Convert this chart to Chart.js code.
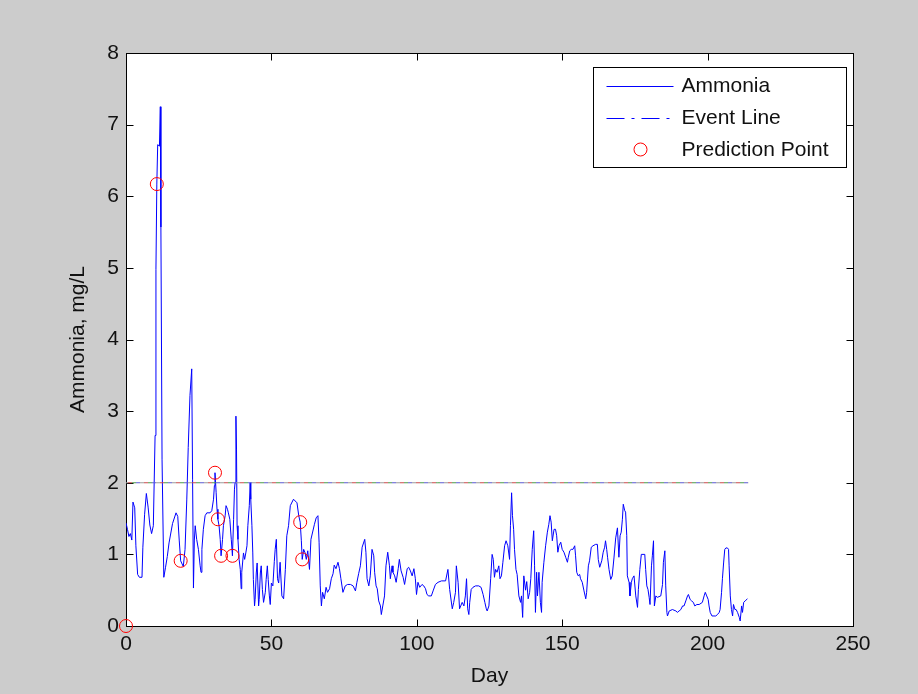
<!DOCTYPE html>
<html>
<head>
<meta charset="utf-8">
<title>Ammonia</title>
<script src="https://cdn.jsdelivr.net/npm/chart.js@4.4.0/dist/chart.umd.min.js"></script>
<style>
  html, body { margin: 0; padding: 0; background: #cccccc; }
  canvas { display: block; }
</style>
</head>
<body>
<canvas id="chart" width="918" height="694"></canvas>
<script>
/* ===== data ===== */
var days = [
  0, 0.5, 1.0, 1.5, 2.0, 2.4, 3.0, 3.4, 4.0, 4.6, 5.5, 5.8, 6.4, 7.0, 7.6, 8.2, 8.8, 9.4,
  10.0, 10.3, 10.6, 10.9, 11.5, 11.8, 12.0, 12.4, 13.0, 13.6, 14.2, 14.8, 16.0, 17.2, 17.8, 18.3,
  18.8, 19.7, 20.3, 20.9, 21.4, 22.0, 22.6, 22.9, 23.2, 23.5,
  23.8, 24.3, 24.9, 25.5, 25.8, 26.1, 26.6, 27.2, 27.8, 28.9, 29.5, 30.1, 30.4, 30.6, 31.0, 31.3,
  31.6, 32.0, 32.4, 32.7, 33.2, 33.5, 34.1, 34.4, 34.9, 35.2, 35.7, 36.2, 36.6, 37.0, 37.3, 37.5,
  37.8, 38.0, 38.2, 38.5, 38.9, 39.3, 39.6, 39.8, 40.4, 40.8, 41.2, 41.6, 41.9, 42.4, 42.7, 42.9,
  43.3, 43.6, 43.8, 44.2, 44.4, 44.8, 45.1, 45.6, 45.8, 46.2, 46.5, 46.9, 47.3, 47.9, 48.2, 48.6,
  48.9, 49.3, 49.6, 50.0, 50.5, 51.0,
  51.3, 51.7, 52.1, 52.5, 53.0, 53.6, 54.2, 54.8, 55.3, 55.9, 56.5, 57.6, 58.8, 59.4, 59.9, 60.3,
  60.6, 61.1, 61.6, 62.0, 62.5, 63.1, 63.6, 64.8, 65.4, 66.0, 66.4, 66.8, 67.2, 67.6, 68.2, 68.8,
  69.3, 70.0, 70.6, 71.2, 71.6, 72.2, 72.9, 73.4, 73.9, 74.6, 75.4, 76.2, 77.2, 78.1, 78.9, 79.4, 80.0,
  80.6, 81.2, 82.1, 82.5, 82.9, 83.5, 84.0, 84.6, 85.2, 85.5, 86.0, 86.4, 86.9, 87.5, 87.8, 88.3,
  88.9, 89.4, 90.0, 90.6, 90.9, 91.5, 91.8, 92.4, 92.9, 93.6, 94.0, 94.6, 95.3, 95.8, 96.7, 97.2,
  97.8, 98.4, 99.0, 99.5, 99.9, 100.4, 101.0, 101.8, 102.4, 103.0, 103.5, 104.1, 105.0, 105.6,
  106.4, 107.3, 108.5,
  109.9, 110.7, 111.3, 112.2, 112.7, 113.3, 113.6, 114.2, 114.7, 115.6, 116.2, 116.7, 117.1, 117.5,
  117.9, 118.2, 118.7, 119.3, 120.2, 121.3, 122.1, 122.8, 123.4, 123.9, 124.2, 124.8, 125.4, 125.9,
  126.3, 126.7, 127.1, 127.6, 128.2, 128.6, 129.1, 129.6, 130.2, 130.7, 131.3, 131.9, 132.2, 132.6,
  132.9, 133.3, 133.6, 134.1, 134.5, 135.1, 135.7, 136.0, 136.4, 136.8,
  137.4, 137.8, 138.3, 138.8, 139.2, 139.7, 140.2, 140.5, 140.8, 141.2, 141.5, 142.0, 142.5, 142.9,
  143.1, 143.7, 144.3, 144.9, 145.4, 145.8, 146.2, 146.6, 147.2, 147.7, 148.1, 148.5, 148.9, 149.5,
  150.0, 150.6, 151.2, 151.8, 152.1, 152.6, 153.1, 153.7, 154.3, 154.6, 155.0, 155.5, 156.0, 156.3,
  156.9, 157.5, 158.1, 158.4, 159.0, 159.4, 160.0, 160.6, 161.5, 162.1, 162.4, 162.9, 163.6, 164.1,
  164.6, 164.9, 165.3, 165.6, 166.1, 166.7,
  167.2, 167.8, 168.4, 169.0, 169.5, 169.9, 170.3, 170.7, 171.0, 171.5, 171.8, 172.2, 172.4, 173.0,
  173.3, 173.8, 174.1, 174.7, 175.3, 175.9, 176.2, 176.7, 177.2, 178.4, 178.7, 179.1, 179.5, 179.9,
  180.2, 180.7, 181.0, 181.4, 181.7, 182.2, 182.7, 183.9, 184.5, 184.8, 185.3, 185.6, 186.0, 186.2,
  186.8, 187.9, 189.1, 189.6, 190.2, 190.8, 191.4, 191.9, 192.5, 193.1, 193.4, 194.0, 194.5, 195.1,
  195.6, 196.3,
  197.1, 198.2, 198.8, 199.2, 199.7, 200.2, 200.5, 200.9, 201.5, 202.8, 203.4, 204.0, 204.3, 204.8,
  205.1, 205.5, 205.9, 206.3, 206.8, 207.2, 207.4, 207.8, 208.2, 208.6, 208.9, 209.4, 209.8, 210.3,
  210.9, 211.2, 211.7, 212.0, 212.4, 212.9, 213.7
];
var ammonia = [
  1.44, 1.35, 1.25, 1.29, 1.20, 1.73, 1.65, 1.12, 0.72, 0.68, 0.68, 1.10, 1.56, 1.85, 1.66, 1.41, 1.29, 1.40,
  2.66, 4.98, 6.17, 6.72, 6.70, 7.25, 5.57, 2.32, 0.68, 0.82, 0.97, 1.16, 1.43, 1.58, 1.53, 1.20,
  0.91, 0.83, 1.07, 1.76, 2.49, 3.22, 3.59, 2.05, 0.53, 1.20,
  1.40, 1.21, 1.07, 0.84, 0.75, 1.07, 1.35, 1.54, 1.58, 1.58, 1.61, 1.77, 1.96, 2.14, 1.86, 1.63,
  1.49, 1.40, 1.21, 0.98, 1.21, 1.40, 1.54, 1.68, 1.63, 1.58, 1.49, 1.21, 0.98, 1.49, 1.91, 2.00,
  2.93, 2.47, 1.40, 1.21, 0.93, 0.79, 0.52, 0.75, 1.02, 0.93, 1.02, 1.12, 1.40, 1.68, 2.00, 1.77,
  1.40, 1.02, 0.65, 0.28, 0.37, 0.74, 0.88, 0.28, 0.37, 0.74, 0.84, 0.51, 0.33, 0.47, 0.65, 0.84,
  0.65, 0.42, 0.30, 0.60, 0.56, 0.90,
  1.07, 1.21, 0.66, 0.60, 0.89, 0.42, 0.38, 0.79, 1.26, 1.40, 1.68, 1.77, 1.72, 1.54, 1.45, 1.19,
  0.93, 1.07, 1.02, 0.93, 1.05, 0.79, 1.21, 1.42, 1.51, 1.54, 1.17, 0.56, 0.28, 0.47, 0.38, 0.54,
  0.47, 0.52, 0.66, 0.73, 0.85, 0.80, 0.89, 0.80, 0.66, 0.47, 0.56, 0.58, 0.58, 0.56, 0.49, 0.61, 0.73,
  0.84, 1.10, 1.21, 1.03, 0.66, 0.56, 0.70, 1.07, 0.98, 0.75, 0.56, 0.52, 0.35, 0.28, 0.16, 0.28,
  0.42, 0.84, 1.03, 0.84, 0.66, 0.84, 0.75, 0.70, 0.61, 0.80, 0.93, 0.77, 0.68, 0.58, 0.80, 0.82,
  0.77, 0.70, 0.80, 0.66, 0.44, 0.61, 0.54, 0.58, 0.56, 0.52, 0.44, 0.42, 0.42, 0.49,
  0.58, 0.61, 0.63,
  0.63, 0.79, 0.51, 0.24, 0.33, 0.47, 0.84, 0.61, 0.24, 0.33, 0.28, 0.42, 0.66, 0.24,
  0.16, 0.33, 0.51, 0.54, 0.56, 0.56, 0.54, 0.44, 0.33, 0.24, 0.21, 0.28, 0.66, 1.00,
  0.93, 0.68, 0.79, 0.75, 0.84, 0.66, 0.70, 0.89, 1.12, 1.19, 1.12, 0.93, 1.40, 1.86,
  1.54, 1.35, 1.07, 0.79, 0.72, 0.42, 0.33, 0.42, 0.12, 0.70,
  0.50, 0.62, 0.38, 0.47, 0.66, 1.07, 1.33, 0.84, 0.19, 0.75, 0.42, 0.75, 0.33, 0.19,
  0.61, 0.89, 1.12, 1.31, 1.42, 1.54, 1.45, 1.19, 1.35, 1.35, 1.26, 1.03, 1.12, 1.17,
  1.07, 1.03, 0.96, 0.89, 0.96, 1.05, 1.07, 1.07, 1.12, 0.98, 0.75, 0.70, 0.72, 0.66,
  0.61, 0.49, 0.38, 0.47, 0.84, 0.91, 1.10, 1.12, 1.14, 1.14, 0.93, 0.82, 0.91, 1.03,
  1.10, 1.19, 1.07, 0.96, 0.79, 0.65,
  0.70, 0.95, 1.23, 1.37, 0.96, 1.26, 1.31, 1.49, 1.70, 1.61, 1.59, 1.26, 0.70, 0.61,
  0.42, 0.61, 0.66, 0.70, 0.42, 0.26, 0.51, 0.79, 1.00, 1.00, 0.79, 0.56, 0.51, 0.40,
  0.30, 0.84, 0.98, 1.19, 0.28, 0.42, 0.40, 0.42, 0.58, 0.89, 1.05, 0.56, 0.19, 0.14,
  0.21, 0.23, 0.21, 0.19, 0.21, 0.23, 0.28, 0.28, 0.35, 0.42, 0.44, 0.37, 0.35, 0.33,
  0.28, 0.30,
  0.30, 0.33, 0.42, 0.47, 0.42, 0.37, 0.28, 0.19, 0.14, 0.14, 0.16, 0.19, 0.23, 0.47,
  0.66, 0.88, 1.07, 1.09, 1.09, 1.07, 0.84, 0.42, 0.23, 0.14, 0.30, 0.23, 0.23, 0.19,
  0.12, 0.07, 0.28, 0.19, 0.33, 0.35, 0.38
];
var eventDays = [0, 214];
var eventLevel = [2, 2];
var predDays = [0, 10.6, 18.8, 30.6, 31.6, 32.7, 36.6, 59.9, 60.6];
var predValues = [0, 6.17, 0.91, 2.14, 1.49, 0.98, 0.98, 1.45, 0.93];
var xTicks = [0, 50, 100, 150, 200, 250];
var yTicks = [0, 1, 2, 3, 4, 5, 6, 7, 8];
var legendLabels = ['Ammonia', 'Event Line', 'Prediction Point'];

/* ===== helpers ===== */
var FONT = '"Liberation Sans", Arial, sans-serif';
var TXT = '#111111';

function pairs(xs, ys) {
    return xs.map(function(x, i) { return { x: x, y: ys[i] }; });
}

// the event line in the picture is a thin multicoloured line
function eventPattern() {
    var c = document.createElement('canvas');
    c.width = 16; c.height = 1;
    var g = c.getContext('2d');
    ['#c84a4a', '#4a9a4a', '#5a5ad0', '#9a9a9a'].forEach(function(col, i) {
        g.fillStyle = col;
        g.fillRect(i * 4, 0, 4, 1);
    });
    return g.createPattern(c, 'repeat');
}

// white axes background, black box and inward ticks like the original
var axesBox = {
    id: 'axesBox',
    beforeDatasetsDraw: function(chart) {
        var ctx = chart.ctx, a = chart.chartArea;
        var xs = chart.scales.x, ys = chart.scales.y;
        var L = Math.round(a.left) + 0.5, R = Math.round(a.right) + 0.5;
        var T = Math.round(a.top) + 0.5, B = Math.round(a.bottom) + 0.5;
        ctx.save();
        ctx.fillStyle = '#ffffff';
        ctx.fillRect(L, T, R - L, B - T);
        ctx.strokeStyle = '#000000';
        ctx.lineWidth = 1;
        ctx.beginPath();
        xTicks.forEach(function(t) {
            var px = Math.round(xs.getPixelForValue(t)) + 0.5;
            ctx.moveTo(px, B); ctx.lineTo(px, B - 7);
            ctx.moveTo(px, T); ctx.lineTo(px, T + 7);
        });
        yTicks.forEach(function(t) {
            var py = Math.round(ys.getPixelForValue(t)) + 0.5;
            ctx.moveTo(L, py); ctx.lineTo(L + 7, py);
            ctx.moveTo(R, py); ctx.lineTo(R - 7, py);
        });
        ctx.stroke();
        ctx.strokeRect(L, T, R - L, B - T);
        ctx.restore();
    }
};

// legend box in the upper right corner of the axes
var boxLegend = {
    id: 'boxLegend',
    afterDraw: function(chart) {
        var ctx = chart.ctx, a = chart.chartArea;
        var w = 253, h = 100;
        var bx = Math.round(a.right) - 7 - w + 0.5, by = Math.round(a.top) + 14 + 0.5;
        ctx.save();
        ctx.fillStyle = '#ffffff';
        ctx.fillRect(bx, by, w, h);
        ctx.strokeStyle = '#000000';
        ctx.lineWidth = 1;
        ctx.strokeRect(bx, by, w, h);

        var rows = [by + 18, by + 50, by + 82];
        var x0 = bx + 13, x1 = bx + 80;

        ctx.strokeStyle = '#0000ff';
        ctx.beginPath();
        ctx.moveTo(x0, Math.round(rows[0]) + 0.5); ctx.lineTo(x1, Math.round(rows[0]) + 0.5);
        ctx.stroke();

        ctx.setLineDash([18, 7, 3, 7]);
        ctx.beginPath();
        ctx.moveTo(x0, Math.round(rows[1]) + 0.5); ctx.lineTo(x1, Math.round(rows[1]) + 0.5);
        ctx.stroke();
        ctx.setLineDash([]);

        ctx.strokeStyle = '#ff0000';
        ctx.beginPath();
        ctx.arc(bx + 47, rows[2], 6.5, 0, Math.PI * 2);
        ctx.stroke();

        ctx.fillStyle = TXT;
        ctx.font = '21px ' + FONT;
        ctx.textBaseline = 'middle';
        ctx.textAlign = 'left';
        legendLabels.forEach(function(lbl, i) {
            ctx.fillText(lbl, bx + 88, rows[i] + 1);
        });
        ctx.restore();
    }
};

/* ===== chart ===== */
var ctx = document.getElementById('chart');
var chart = new Chart(ctx, {
    type: 'line',
    data: {
        datasets: [{
            label: 'Prediction Point',
            data: pairs(predDays, predValues),
            showLine: false,
            pointRadius: 6.5,
            pointHoverRadius: 6.5,
            pointBorderWidth: 1,
            pointBorderColor: '#ff0000',
            pointBackgroundColor: 'rgba(0,0,0,0)',
            clip: false,
            order: 0
        }, {
            label: 'Event Line',
            data: pairs(eventDays, eventLevel),
            borderColor: eventPattern(),
            borderWidth: 1,
            pointRadius: 0,
            fill: false,
            order: 1
        }, {
            label: 'Ammonia',
            data: pairs(days, ammonia),
            borderColor: '#0000ff',
            borderWidth: 1,
            pointRadius: 0,
            tension: 0,
            fill: false,
            order: 2
        }]
    },
    options: {
        responsive: false,
        animation: false,
        devicePixelRatio: 1,
        events: [],
        layout: { padding: { top: 53, right: 65, bottom: 0, left: 0 } },
        plugins: {
            legend: { display: false },
            tooltip: { enabled: false }
        },
        scales: {
            x: {
                type: 'linear',
                min: 0,
                max: 250,
                afterBuildTicks: function(scale) {
                    scale.ticks = xTicks.map(function(v) { return { value: v }; });
                },
                afterFit: function(scale) { scale.height = 68; },
                grid: { display: false, drawTicks: false },
                border: { display: false },
                ticks: { color: TXT, font: { family: FONT, size: 21 }, padding: 6, maxRotation: 0 },
                title: {
                    display: true, text: 'Day', color: TXT,
                    font: { family: FONT, size: 21 },
                    padding: { top: 0, bottom: 5 }
                }
            },
            y: {
                type: 'linear',
                min: 0,
                max: 8,
                afterBuildTicks: function(scale) {
                    scale.ticks = yTicks.map(function(v) { return { value: v }; });
                },
                afterFit: function(scale) { scale.width = 126; },
                grid: { display: false, drawTicks: false },
                border: { display: false },
                ticks: { color: TXT, font: { family: FONT, size: 21 }, padding: 7 },
                title: {
                    display: true, text: 'Ammonia, mg/L', color: TXT,
                    font: { family: FONT, size: 21 },
                    padding: { top: 66, bottom: 0 }
                }
            }
        }
    },
    plugins: [axesBox, boxLegend]
});
</script>
</body>
</html>
